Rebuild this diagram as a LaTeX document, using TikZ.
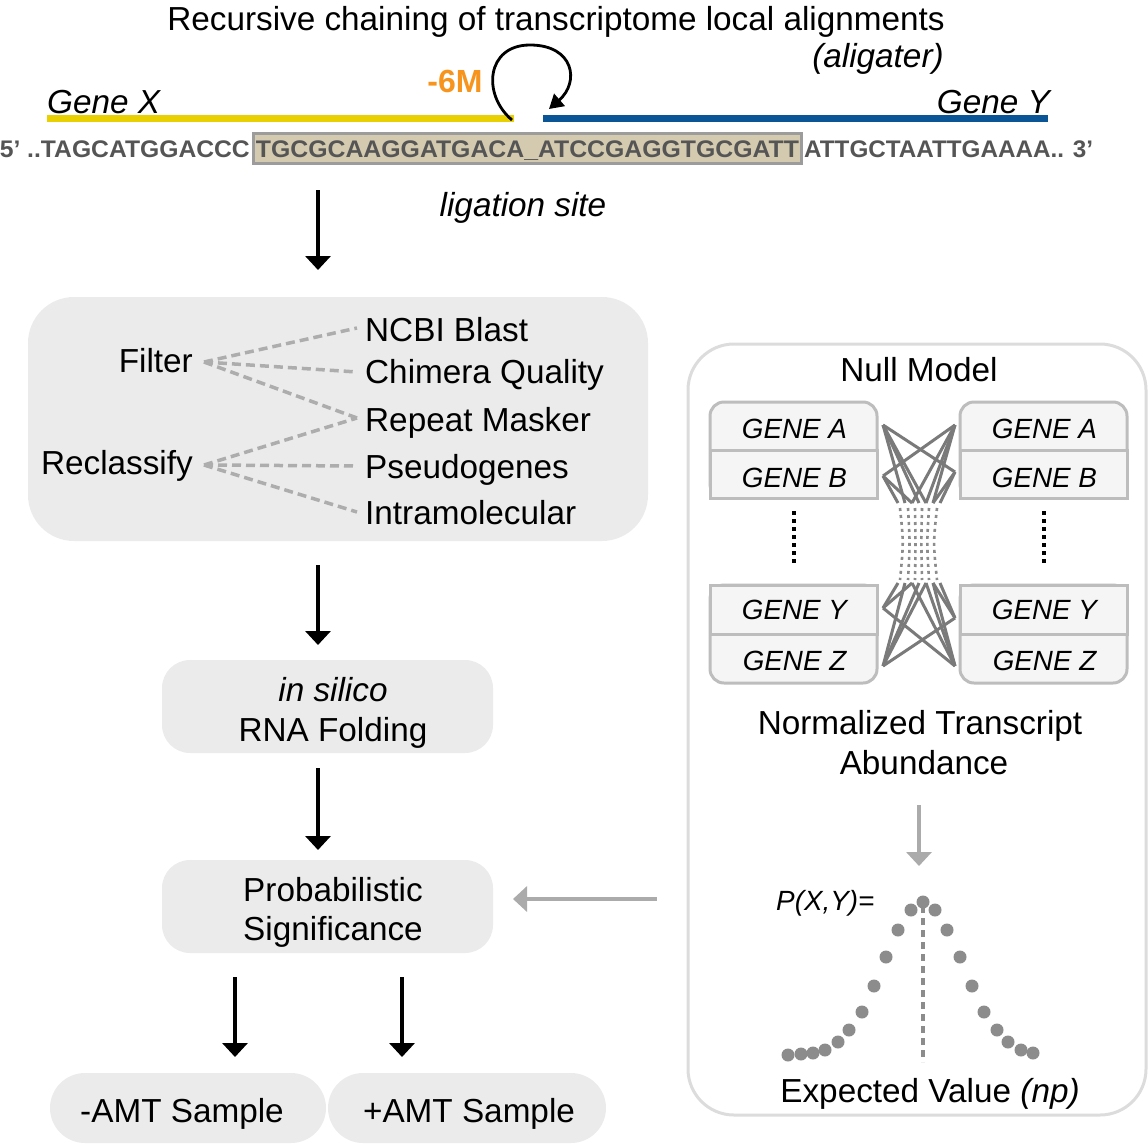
\documentclass[tikz,border=0pt]{standalone}
\usepackage{fontspec}
\setmainfont{Liberation Sans}
\usepackage{graphicx}
\usetikzlibrary{arrows.meta}
\definecolor{yel}{HTML}{E9D000}
\definecolor{blu}{HTML}{0A5595}
\definecolor{org}{HTML}{F7941D}
\definecolor{seqgray}{HTML}{555555}
\definecolor{tan}{HTML}{D4CAB0}
\definecolor{tanborder}{HTML}{9C9C9C}
\definecolor{boxfill}{HTML}{EBEBEB}
\definecolor{dashgray}{HTML}{ADADAD}
\definecolor{nullborder}{HTML}{DCDCDC}
\definecolor{genefill}{HTML}{F5F5F5}
\definecolor{geneborder}{HTML}{BDBDBD}
\definecolor{crossgray}{HTML}{7A7A7A}
\definecolor{dotgray}{HTML}{8C8C8C}
\definecolor{arrgray}{HTML}{ABABAB}
\tikzset{
  txt/.style={font=\fontsize{33.3}{38}\selectfont, inner sep=0pt, anchor=base},
  itxt/.style={font=\fontsize{33.3}{38}\selectfont\itshape, inner sep=0pt, anchor=base},
  gtxt/.style={font=\fontsize{27.8}{32}\selectfont\itshape, inner sep=0pt, anchor=base},
  seqtxt/.style={font=\fontsize{24}{28}\selectfont\bfseries, text=seqgray, inner sep=0pt},
  arr/.style={line width=3.5pt, -{Triangle[length=14pt,width=25pt]}},
  garr/.style={line width=3.5pt, arrgray, -{Triangle[length=14pt,width=25pt]}},
  graybox/.style={fill=boxfill, draw=none},
  dashln/.style={line width=3.5pt, dashgray, dash pattern=on 9pt off 5pt},
  genebox/.style={fill=genefill, draw=geneborder, line width=3pt},
  crossln/.style={line width=3pt, crossgray},
  hubdot/.style={line width=2.6pt, dotgray, dash pattern=on 3pt off 4pt},
  dotvert/.style={line width=3.5pt, black, dash pattern=on 4pt off 4pt},
  pdot/.style={circle, fill=dotgray, inner sep=0pt, minimum size=13pt},
}
\begin{document}
\begin{tikzpicture}[x=1pt,y=-1pt]
\useasboundingbox (0,0) rectangle (1148,1143);

% ---------- header ----------
\node[txt] (title) at (556,30) {Recursive chaining of transcriptome local alignments};
\node[itxt] (alig) at (878,67) {(aligater)};
\node[itxt, anchor=base west] (genex) at (47,113) {Gene X};
\node[itxt, anchor=base east] (geney) at (1050,113) {Gene Y};
\node[txt, font=\fontsize{32}{38}\selectfont\bfseries, text=org] (sixm) at (455,92) {-6M};

\coordinate (yxA) at (47,118);
\coordinate (yxB) at (514,118);
\coordinate (byA) at (543,118);
\coordinate (byB) at (1048,118);
\draw[yel, line width=7pt] (yxA) -- (yxB);
\draw[blu, line width=7pt] (byA) -- (byB);

\coordinate (loopS) at (512,120);
\coordinate (loopT) at (530,45);
\coordinate (loopE) at (549,109);
\draw[line width=2.8pt, -{Triangle[length=14pt,width=16pt]}]
  (loopS) .. controls (482,95) and (486,45) .. (loopT)
          .. controls (574,45) and (580,82) .. (loopE);

% ---------- sequence ----------
\node[fill=tan, draw=tanborder, line width=3.5pt, minimum width=548pt, minimum height=30pt, inner sep=0pt] (ligbox) at (527.5,148.5) {};
\node[seqtxt, anchor=base east] (seqL) at (250,157) {\resizebox{250pt}{\height}{5’ ..TAGCATGGACCC}};
\node[seqtxt, anchor=base] (seqM) at (527.5,157) {\resizebox{543pt}{\height}{TGCGCAAGGATGACA\_ATCCGAGGTGCGATT}};
\node[seqtxt, anchor=base west] (seqR) at (804,157) {\resizebox{289pt}{\height}{ATTGCTAATTGAAAA.. 3’}};
\node[itxt] (ligsite) at (523,216) {ligation site};

% ---------- left pipeline ----------
\coordinate (a1s) at (318,190);
\coordinate (a1e) at (318,270);
\draw[arr] (a1s) -- (a1e);

\node[graybox, rounded corners=46pt, minimum width=620pt, minimum height=244pt] (filterbox) at (338,419) {};
\node[txt, anchor=base east] (filter) at (193,372) {Filter};
\node[txt, anchor=base east] (reclass) at (193,474) {Reclassify};
\node[txt, anchor=base west] (ncbi) at (365,341) {NCBI Blast};
\node[txt, anchor=base west] (chim) at (365,383) {Chimera Quality};
\node[txt, anchor=base west] (rep) at (365,431) {Repeat Masker};
\node[txt, anchor=base west] (pseudo) at (365,478) {Pseudogenes};
\node[txt, anchor=base west] (intra) at (365,524) {Intramolecular};

\coordinate (fR) at (204,362);
\coordinate (rR) at (204,465);
\coordinate (eN) at (357,328);
\coordinate (eC) at (357,372);
\coordinate (eR) at (357,418);
\coordinate (eP) at (357,466);
\coordinate (eI) at (357,512);
\draw[dashln] (fR) -- (eN);
\draw[dashln] (fR) -- (eC);
\draw[dashln] (fR) -- (eR);
\draw[dashln] (rR) -- (eR);
\draw[dashln] (rR) -- (eP);
\draw[dashln] (rR) -- (eI);

\coordinate (a2s) at (318,565);
\coordinate (a2e) at (318,645);
\draw[arr] (a2s) -- (a2e);

\node[graybox, rounded corners=28pt, minimum width=331pt, minimum height=93pt] (foldbox) at (327.5,706.5) {};
\node[itxt] (insilico) at (333,701) {in silico};
\node[txt] (rnafold) at (333,741) {RNA Folding};

\coordinate (a3s) at (318,768);
\coordinate (a3e) at (318,850);
\draw[arr] (a3s) -- (a3e);

\node[graybox, rounded corners=28pt, minimum width=331pt, minimum height=93pt] (probbox) at (327.5,906.5) {};
\node[txt] (prob1) at (333,901) {Probabilistic};
\node[txt] (prob2) at (333,940) {Significance};

\coordinate (a4s) at (235,977);
\coordinate (a4e) at (235,1057);
\coordinate (a5s) at (402,977);
\coordinate (a5e) at (402,1057);
\draw[arr] (a4s) -- (a4e);
\draw[arr] (a5s) -- (a5e);

\node[graybox, rounded corners=35pt, minimum width=276pt, minimum height=70pt] (amtm) at (188,1108) {};
\node[graybox, rounded corners=35pt, minimum width=278pt, minimum height=70pt] (amtp) at (467,1108) {};
\node[txt] (amtmt) at (182,1122) {-AMT Sample};
\node[txt] (amtpt) at (469,1122) {+AMT Sample};

% ---------- null model ----------
\node[draw=nullborder, line width=3pt, fill=white, rounded corners=46pt, minimum width=458pt, minimum height=771pt, inner sep=0pt] (nullbox) at (917,729.5) {};
\node[txt] (nulltitle) at (919,381) {Null Model};

\coordinate (ga) at (657,899);
\coordinate (gb) at (513,899);
\draw[garr] (ga) -- (gb);

% gene boxes left
\node[genebox, rounded corners=14pt, minimum width=167pt, minimum height=96pt, inner sep=0pt] (LTg) at (793.5,450) {};
\node[genebox, minimum width=167pt, minimum height=48pt, inner sep=0pt] (LB) at (793.5,474) {};
\node[genebox, rounded corners=14pt, minimum width=167pt, minimum height=98pt, inner sep=0pt] (LBg) at (793.5,634) {};
\node[genebox, minimum width=167pt, minimum height=49pt, inner sep=0pt] (LY) at (793.5,609.5) {};
% gene boxes right
\node[genebox, rounded corners=14pt, minimum width=167pt, minimum height=96pt, inner sep=0pt] (RTg) at (1043.5,450) {};
\node[genebox, minimum width=167pt, minimum height=48pt, inner sep=0pt] (RB) at (1043.5,474) {};
\node[genebox, rounded corners=14pt, minimum width=167pt, minimum height=98pt, inner sep=0pt] (RBg) at (1043.5,634) {};
\node[genebox, minimum width=167pt, minimum height=49pt, inner sep=0pt] (RY) at (1043.5,609.5) {};

\node[gtxt] (tLA) at (794.5,438) {GENE A};
\node[gtxt] (tLB) at (794.5,487) {GENE B};
\node[gtxt] (tLY) at (794.5,619) {GENE Y};
\node[gtxt] (tLZ) at (794.5,670) {GENE Z};
\node[gtxt] (tRA) at (1044.5,438) {GENE A};
\node[gtxt] (tRB) at (1044.5,487) {GENE B};
\node[gtxt] (tRY) at (1044.5,619) {GENE Y};
\node[gtxt] (tRZ) at (1044.5,670) {GENE Z};

\coordinate (dL1) at (794,511);
\coordinate (dL2) at (794,564);
\coordinate (dR1) at (1044,511);
\coordinate (dR2) at (1044,564);
\draw[dotvert] (dL1) -- (dL2);
\draw[dotvert] (dR1) -- (dR2);

% crossing lines
\coordinate (pLA) at (883,425);
\coordinate (pRA) at (955,425);
\coordinate (pLB) at (883,476);
\coordinate (pRB) at (955,472);
\coordinate (pLY) at (883,608);
\coordinate (pRY) at (955,618);
\coordinate (pLZ) at (883,666);
\coordinate (pRZ) at (955,666);
\foreach \i/\x in {1/898,2/905,3/912,4/919,5/926,6/933,7/940}{
  \coordinate (ht\i) at (\x,503);
  \coordinate (hb\i) at (\x,583);
}
\draw[crossln] (pLA) -- (pRB);
\draw[crossln] (pRA) -- (pLB);
\draw[crossln] (pLY) -- (pRZ);
\draw[crossln] (pRY) -- (pLZ);
\draw[crossln] (pLA) -- (ht2);
\draw[crossln] (pLA) -- (ht4);
\draw[crossln] (pLA) -- (ht5);
\draw[crossln] (pRA) -- (ht3);
\draw[crossln] (pRA) -- (ht5);
\draw[crossln] (pRA) -- (ht6);
\draw[crossln] (pLB) -- (ht1);
\draw[crossln] (pLB) -- (ht3);
\draw[crossln] (pRB) -- (ht6);
\draw[crossln] (pRB) -- (ht7);
\draw[crossln] (pLY) -- (hb1);
\draw[crossln] (pLY) -- (hb3);
\draw[crossln] (pRY) -- (hb6);
\draw[crossln] (pRY) -- (hb7);
\draw[crossln] (pLZ) -- (hb2);
\draw[crossln] (pLZ) -- (hb4);
\draw[crossln] (pLZ) -- (hb5);
\draw[crossln] (pRZ) -- (hb3);
\draw[crossln] (pRZ) -- (hb5);
\draw[crossln] (pRZ) -- (hb6);
\foreach \x in {900,908,915,922,929,937}{
  \draw[hubdot] (\x,508) .. controls (\x+0.2*918-0.2*\x,543) .. (\x,580);
}

\node[txt] (norm1) at (920,734) {Normalized Transcript};
\node[txt] (norm2) at (924,774) {Abundance};

\coordinate (g2a) at (919,805);
\coordinate (g2b) at (919,866);
\draw[garr] (g2a) -- (g2b);

\node[gtxt, anchor=base west] (pxy) at (776,910) {P(X,Y)=};

\coordinate (mv1) at (923,906);
\coordinate (mv2) at (923,1062);
\draw[line width=3.5pt, dotgray, dash pattern=on 7pt off 5pt] (mv1) -- (mv2);
\foreach \px/\py [count=\k] in {788/1055,801/1054,813/1053,825/1050,838/1042,849/1030,862/1012,874/986,886/957,898/930,911/910,923/902,935/910,947/930,960/957,972/986,984/1012,997/1030,1008/1042,1021/1050,1033/1053}{
  \node[pdot] (pd\k) at (\px,\py) {};
}
\node[txt] (expv) at (930,1102) {Expected Value \textit{(np)}};
\end{tikzpicture}
\end{document}
